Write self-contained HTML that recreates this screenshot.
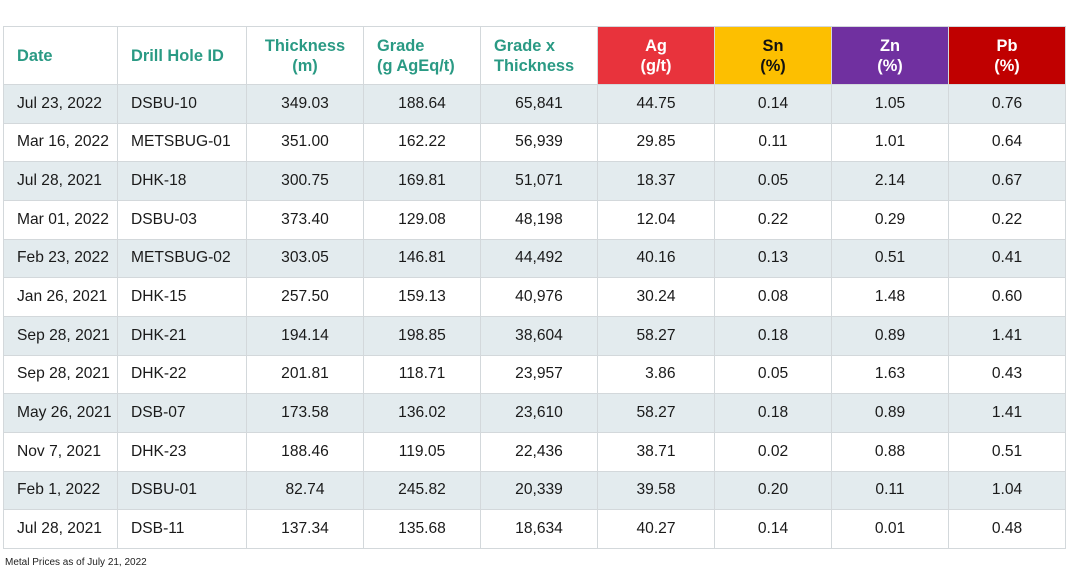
<!DOCTYPE html>
<html><head><meta charset="utf-8"><style>
body{margin:0;width:1068px;height:580px;background:#fff;font-family:"Liberation Sans",Arial,sans-serif;position:relative;overflow:hidden}
table{position:absolute;left:3px;top:26px;border-collapse:collapse;table-layout:fixed}
td,th{border:1px solid #d3d8db;font-size:15.6px;color:#1a1a1a;padding:0;text-align:center;white-space:nowrap}
th{height:57px;font-weight:bold;color:#2a9a84;line-height:20px;font-size:16.4px}
td{height:37.67px}
.l{text-align:left;padding-left:13px}
tr:nth-child(even) td{background:#e3ebee}
.ag{background:#e8333c;color:#fff}.sn{background:#fdbf00;color:#111}.zn{background:#7030a0;color:#fff}.pb{background:#c00000;color:#fff}
.foot{position:absolute;left:5px;top:557px;font-size:10px;color:#222}
</style></head><body>
<table>
<colgroup><col style="width:114px"><col style="width:129px"><col style="width:117px"><col style="width:117px"><col style="width:117px"><col style="width:117px"><col style="width:117px"><col style="width:117px"><col style="width:117px"></colgroup>
<tr><th class="l">Date</th><th class="l">Drill Hole ID</th><th>Thickness<br>(m)</th><th class="l">Grade<br>(g AgEq/t)</th><th class="l">Grade x<br>Thickness</th><th class="ag">Ag<br>(g/t)</th><th class="sn">Sn<br>(%)</th><th class="zn">Zn<br>(%)</th><th class="pb">Pb<br>(%)</th></tr>
<tr><td class="l">Jul 23, 2022</td><td class="l">DSBU-10</td><td>349.03</td><td>188.64</td><td>65,841</td><td>44.75</td><td>0.14</td><td>1.05</td><td>0.76</td></tr>
<tr><td class="l">Mar 16, 2022</td><td class="l">METSBUG-01</td><td>351.00</td><td>162.22</td><td>56,939</td><td>29.85</td><td>0.11</td><td>1.01</td><td>0.64</td></tr>
<tr><td class="l">Jul 28, 2021</td><td class="l">DHK-18</td><td>300.75</td><td>169.81</td><td>51,071</td><td>18.37</td><td>0.05</td><td>2.14</td><td>0.67</td></tr>
<tr><td class="l">Mar 01, 2022</td><td class="l">DSBU-03</td><td>373.40</td><td>129.08</td><td>48,198</td><td>12.04</td><td>0.22</td><td>0.29</td><td>0.22</td></tr>
<tr><td class="l">Feb 23, 2022</td><td class="l">METSBUG-02</td><td>303.05</td><td>146.81</td><td>44,492</td><td>40.16</td><td>0.13</td><td>0.51</td><td>0.41</td></tr>
<tr><td class="l">Jan 26, 2021</td><td class="l">DHK-15</td><td>257.50</td><td>159.13</td><td>40,976</td><td>30.24</td><td>0.08</td><td>1.48</td><td>0.60</td></tr>
<tr><td class="l">Sep 28, 2021</td><td class="l">DHK-21</td><td>194.14</td><td>198.85</td><td>38,604</td><td>58.27</td><td>0.18</td><td>0.89</td><td>1.41</td></tr>
<tr><td class="l">Sep 28, 2021</td><td class="l">DHK-22</td><td>201.81</td><td>118.71</td><td>23,957</td><td>&nbsp;&nbsp;3.86</td><td>0.05</td><td>1.63</td><td>0.43</td></tr>
<tr><td class="l">May 26, 2021</td><td class="l">DSB-07</td><td>173.58</td><td>136.02</td><td>23,610</td><td>58.27</td><td>0.18</td><td>0.89</td><td>1.41</td></tr>
<tr><td class="l">Nov 7, 2021</td><td class="l">DHK-23</td><td>188.46</td><td>119.05</td><td>22,436</td><td>38.71</td><td>0.02</td><td>0.88</td><td>0.51</td></tr>
<tr><td class="l">Feb 1, 2022</td><td class="l">DSBU-01</td><td>82.74</td><td>245.82</td><td>20,339</td><td>39.58</td><td>0.20</td><td>0.11</td><td>1.04</td></tr>
<tr><td class="l">Jul 28, 2021</td><td class="l">DSB-11</td><td>137.34</td><td>135.68</td><td>18,634</td><td>40.27</td><td>0.14</td><td>0.01</td><td>0.48</td></tr>
</table>
<div class="foot">Metal Prices as of July 21, 2022</div>
</body></html>
